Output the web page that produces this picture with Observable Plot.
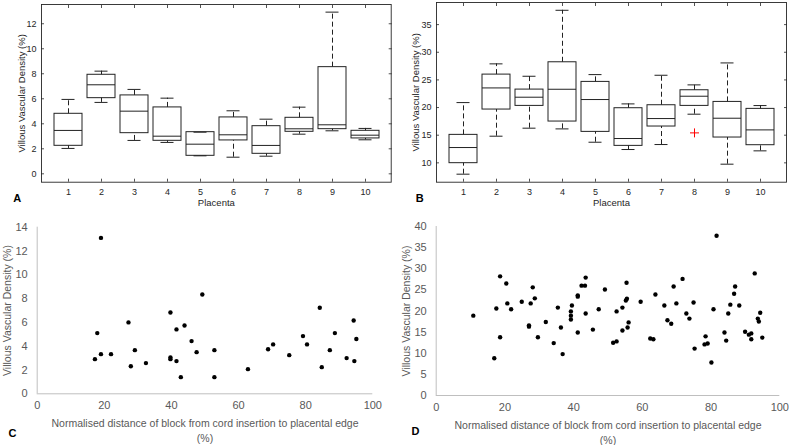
<!DOCTYPE html>
<html><head><meta charset="utf-8">
<script src="https://cdn.jsdelivr.net/npm/d3@7"></script>
<script src="https://cdn.jsdelivr.net/npm/@observablehq/plot@0.6"></script>
<style>
body{margin:0;background:#fff;}
#wrap{position:relative;width:789px;height:445px;overflow:hidden;background:#fff;}
#wrap > svg{position:absolute;}
</style></head><body><div id="wrap"></div>
<script>
// ---------- data ----------
const placenta = [1,2,3,4,5,6,7,8,9,10];

// Panel A: box statistics (Villous Vascular Density %)
const aLow  = [2.03, 5.71, 2.67, 2.51, 1.44, 1.33, 1.41, 3.17, 3.44, 2.72];
const aQ1   = [2.24, 6.05, 3.25, 2.64, 1.44, 2.67, 1.60, 3.36, 3.57, 2.83];
const aMed  = [3.47, 7.12, 5.01, 3.01, 2.37, 3.12, 2.27, 3.60, 3.92, 3.09];
const aQ3   = [4.80, 7.92, 6.27, 5.31, 3.33, 4.51, 3.81, 4.48, 8.53, 3.44];
const aHigh = [5.95, 8.21, 6.75, 6.05, 3.33, 5.04, 4.37, 5.33, 12.93, 3.63];
const aYTicks = [0,2,4,6,8,10,12];

// Panel B: box statistics
const bLow  = [7.95, 14.82, 16.27, 16.14, 13.73, 12.41, 13.31, 18.80, 9.76, 12.17];
const bQ1   = [9.94, 19.64, 20.30, 17.47, 15.60, 13.07, 16.57, 20.30, 14.58, 13.19];
const bMed  = [12.77, 23.55, 21.87, 23.31, 21.45, 14.40, 18.01, 22.05, 18.07, 15.96];
const bQ3   = [15.06, 25.96, 23.25, 28.19, 24.64, 19.88, 20.42, 23.13, 21.02, 19.76];
const bHigh = [20.90, 27.90, 25.66, 37.59, 25.96, 20.66, 25.84, 24.10, 28.07, 20.36];
const bOutlierPlacenta = [8];
const bOutlierValue = [15.42];
const bYTicks = [10,15,20,25,30,35];

// Panel C: scatter
const cX = [17.2,17.9,19.0,19.0,22.0,27.2,27.9,29.1,32.4,39.7,39.7,39.7,41.5,41.5,42.8,43.9,46.0,47.5,49.2,52.8,52.8,62.8,68.8,70.3,75.1,79.2,80.4,84.2,84.8,87.2,88.7,92.2,94.3,94.5,95.1];
const cY = [2.91,5.10,13.1,3.33,3.33,6.00,2.32,3.67,2.58,6.83,3.05,2.91,5.41,2.75,1.40,5.74,4.43,3.50,8.35,3.67,1.40,2.07,3.75,4.15,3.25,4.85,4.15,7.23,2.24,3.67,5.10,3.00,6.16,2.75,4.60];
const cYTicks = [0,2,4,6,8,10,12,14];

// Panel D: scatter
const dX = [10.8,18.6,17.5,20.4,20.7,21.8,18.6,16.9,24.9,27.5,28.1,28.7,27.0,27.0,29.6,31.9,34.2,35.4,36.3,36.8,39.5,39.2,39.2,39.2,41.2,41.2,41.2,42.3,43.3,43.5,43.5,45.6,47.3,49.1,55.4,55.2,55.5,54.2,52.5,56.0,55.7,54.2,51.5,52.5,59.5,63.8,62.3,63.2,66.4,67.3,68.4,69.1,69.9,71.7,72.8,73.7,74.9,75.2,78.4,78.1,79.0,80.1,80.7,81.6,83.9,84.4,85.0,85.6,86.7,87.0,88.2,89.9,91.0,91.7,91.7,92.7,93.6,93.9,94.3,94.9];
const dY = [18.9,28.2,20.6,26.5,21.8,20.4,13.8,8.8,22.2,21.8,25.6,23.0,16.6,16.3,13.8,17.4,12.4,20.8,16.1,9.8,21.3,19.9,18.9,18.0,23.7,23.4,14.9,26.0,26.0,27.9,19.4,15.6,20.4,25.1,26.7,22.5,22.9,20.8,19.9,17.3,16.1,15.4,12.5,12.8,22.2,23.9,13.5,13.3,21.3,17.8,17.0,25.8,21.8,27.6,19.4,18.2,22.0,11.1,14.0,12.1,12.3,7.8,20.4,37.8,14.9,13.0,19.4,21.5,24.1,25.8,21.3,15.1,14.4,14.7,13.3,28.9,18.2,17.5,19.6,13.7];
const dYTicks = [0,5,10,15,20,25,30,35,40];
const xTicksScatter = [0,20,40,60,80,100];

const yTitle = "Villous Vascular Density (%)";
const xTitleBox = "Placenta";
const xTitleScatter = "Normalised distance of block from cord insertion to placental edge\n(%)";

// ---------- drawing ----------
const FONT = "'Liberation Sans', Arial, Helvetica, sans-serif";
const wrap = document.getElementById("wrap");
const centered = {textAnchor: "middle", lineAnchor: "middle"};

function boxPanel(o) {
  const rows = placenta.map((p, i) => ({p, low:o.low[i], q1:o.q1[i], med:o.med[i], q3:o.q3[i], high:o.high[i]}));
  const outl = (o.outX || []).map((p, i) => ({p, v:o.outY[i]}));
  const ink = "#262626";
  const svg = Plot.plot({
    width: o.width, height: 215,
    marginLeft: 41, marginRight: o.marginRight, marginTop: o.marginTop, marginBottom: 33.3,
    x: {type: "band", domain: placenta, range: o.xRange, paddingInner: 0.163, paddingOuter: 0},
    y: {domain: o.yDomain},
    style: {fontFamily: FONT, fontSize: "9px", color: ink, background: "white"},
    marks: [
      Plot.frame({stroke: ink, strokeWidth: 0.9}),
      Plot.axisX({anchor: "bottom", tickSize: 0, tickPadding: 6.5, label: null}),
      Plot.axisX({anchor: "bottom", tickSize: -3, text: null, label: null, strokeWidth: 0.8}),
      Plot.axisX({anchor: "top", tickSize: -3, text: null, label: null, strokeWidth: 0.8}),
      Plot.axisY({anchor: "left", ticks: o.yTicks, tickSize: 0, tickPadding: 5, label: null}),
      Plot.axisY({anchor: "left", ticks: o.yTicks, tickSize: -3, text: null, label: null, strokeWidth: 0.8}),
      Plot.axisY({anchor: "right", ticks: o.yTicks, tickSize: -3, text: null, label: null, strokeWidth: 0.8}),
      Plot.ruleX(rows, {x: "p", y1: "q3", y2: "high", stroke: "#222", strokeDasharray: "5,3"}),
      Plot.ruleX(rows, {x: "p", y1: "low", y2: "q1", stroke: "#222", strokeDasharray: "5,3"}),
      Plot.tickY(rows, {x: "p", y: "high", stroke: "#222", insetLeft: 7.5, insetRight: 7.5}),
      Plot.tickY(rows, {x: "p", y: "low", stroke: "#222", insetLeft: 7.5, insetRight: 7.5}),
      Plot.barY(rows, {x: "p", y1: "q1", y2: "q3", fill: "none", stroke: "#222", strokeWidth: 1}),
      Plot.tickY(rows, {x: "p", y: "med", stroke: "#222", strokeWidth: 1}),
      Plot.dot(outl, {x: "p", y: "v", symbol: "plus", stroke: "#ff0000", r: 3, strokeWidth: 1}),
      Plot.text([yTitle], {...centered, text: d => d, frameAnchor: "left", rotate: -90, dx: o.yLabelDx, fontSize: 9.5, fill: ink}),
      Plot.text([xTitleBox], {...centered, text: d => d, frameAnchor: "bottom", dy: 21, fontSize: 9.5, fill: ink}),
      Plot.text([o.letter], {...centered, text: d => d, frameAnchor: "bottom-left", dx: o.letterDx, dy: 16, fontSize: 11, fontWeight: "bold", fill: "black"})
    ]
  });
  svg.style.left = o.left + "px";
  svg.style.top = "0px";
  wrap.appendChild(svg);
}

function scatterPanel(o) {
  const pts = o.xs.map((x, i) => ({x, y: o.ys[i]}));
  const grey = "#595959";
  const svg = Plot.plot({
    width: o.width, height: 230,
    marginLeft: o.marginLeft, marginRight: o.marginRight, marginTop: o.marginTop, marginBottom: o.marginBottom,
    x: {domain: [0, 100]},
    y: {domain: o.yDomain},
    style: {fontFamily: FONT, fontSize: "11px", color: grey, background: "white"},
    marks: [
      Plot.ruleY([o.yDomain[0]], {stroke: "#bfbfbf", strokeWidth: 1}),
      Plot.ruleX([0], {stroke: "#bfbfbf", strokeWidth: 1}),
      Plot.axisX({ticks: xTicksScatter, tickSize: 0, tickPadding: 7.5, label: null}),
      Plot.axisY({ticks: o.yTicks, tickSize: 0, tickPadding: 9.5, label: null}),
      Plot.dot(pts, {x: "x", y: "y", r: 2.2, fill: "black"}),
      Plot.text([yTitle], {...centered, text: d => d, frameAnchor: "left", rotate: -90, dx: o.yLabelDx, fontSize: 10.5, fill: grey}),
      Plot.text([xTitleScatter], {...centered, text: d => d, frameAnchor: "bottom", dy: 36, lineHeight: 1.4, fontSize: 10.5, fill: grey}),
      Plot.text([o.letter], {...centered, text: d => d, frameAnchor: "bottom-left", dx: o.letterDx, dy: o.letterDy, fontSize: 11, fontWeight: "bold", fill: "black"})
    ]
  });
  svg.style.left = o.left + "px";
  svg.style.top = "215px";
  wrap.appendChild(svg);
}

boxPanel({low: aLow, q1: aQ1, med: aMed, q3: aQ3, high: aHigh, yDomain: [-0.67, 13.54], yTicks: aYTicks,
  width: 395, left: 0, marginRight: 4.3, marginTop: 4, xRange: [53.4, 378.5], yLabelDx: -20, letter: "A", letterDx: -24.3});
boxPanel({low: bLow, q1: bQ1, med: bMed, q3: bQ3, high: bHigh, yDomain: [6.5, 39], yTicks: bYTicks,
  outX: bOutlierPlacenta, outY: bOutlierValue,
  width: 394, left: 395, marginRight: 3, marginTop: 2, xRange: [53.9, 379.5], yLabelDx: -21, letter: "B", letterDx: -16.7});
scatterPanel({xs: cX, ys: cY, yDomain: [0, 14], yTicks: cYTicks, width: 395, left: 0,
  marginLeft: 36.7, marginRight: 22.7, marginTop: 11.7, marginBottom: 51.7, yLabelDx: -29.7, letter: "C", letterDx: -24.7, letterDy: 39.7});
scatterPanel({xs: dX, ys: dY, yDomain: [0, 40], yTicks: dYTicks, width: 394, left: 395,
  marginLeft: 40.7, marginRight: 9.7, marginTop: 11, marginBottom: 50, yLabelDx: -29.7, letter: "D", letterDx: -20.7, letterDy: 36});
</script></body></html>
